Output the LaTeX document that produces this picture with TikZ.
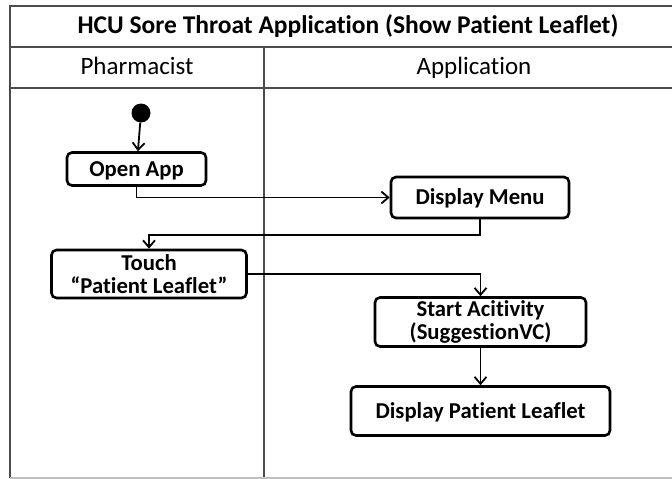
\documentclass[tikz,border=0pt]{standalone}
\usepackage{fontspec}
\setmainfont{Carlito}[Ligatures=NoCommon]
\usetikzlibrary{arrows.meta}

\tikzset{
  lane/.style={draw=black!70, line width=1.7pt},
  lanehead/.style={anchor=base, font=\fontsize{25}{27}\selectfont},
  actbox/.style={draw, line width=2.6pt, rounded corners=5pt, inner sep=0pt, align=center,
    font=\fontsize{22.7}{23}\selectfont\bfseries},
  oneline/.style={text height=14.6pt, text depth=0pt},
  flow/.style={draw, line width=1.8pt, -{Straight Barb[length=7pt,width=12pt]}},
}

\begin{document}
\begin{tikzpicture}[x=1pt,y=-1pt]
\useasboundingbox (0,0) rectangle (672,479);
% swimlane frame
\draw[lane] (10,478) -- (10,6) -- (673,6);
\draw[lane] (10,47) -- (673,47);
\draw[lane] (10,88) -- (673,88);
\draw[lane] (264,47) -- (264,478);
\draw[black!25, line width=1.2pt] (10,478) -- (673,478);

\node[lanehead, font=\fontsize{25.5}{27}\selectfont\bfseries] (title) at (348,33.5) {HCU Sore Throat Application (Show Patient Leaflet)};
\node[lanehead] (pharm) at (137,74) {Pharmacist};
\node[lanehead] (app) at (474,74) {Application};

\node[circle, fill, minimum size=19pt, inner sep=0pt] (start) at (141,113) {};
\node[actbox, oneline, minimum width=139pt, minimum height=33pt] (open) at (136.5,169) {Open App};
\node[actbox, oneline, minimum width=178pt, minimum height=41pt] (menu) at (480,197.5) {Display Menu};
\node[actbox, minimum width=195pt, minimum height=48pt] (touch) at (149,274) {Touch\\“Patient Leaflet”};
\node[actbox, minimum width=211pt, minimum height=49pt] (startact) at (480.5,322) {Start Acitivity\\(SuggestionVC)};
\node[actbox, oneline, minimum width=259pt, minimum height=49pt] (leaflet) at (480.5,411) {Display Patient Leaflet};

\path[flow] (start) -- (open);
\path[flow] (open.south) |- (menu.west);
\path[flow] (menu.south) -- ++(0,16) -| (touch.north);
\path[flow] (touch.east) -| (startact.north);
\path[flow] (startact) -- (leaflet);
\end{tikzpicture}
\end{document}
